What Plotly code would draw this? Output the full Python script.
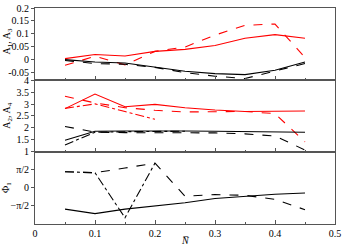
import numpy as np
import plotly.graph_objects as go

N = [0.05, 0.1, 0.15, 0.2, 0.25, 0.3, 0.35, 0.4, 0.45]

# Panel 1: A1, A3
a1_red_solid = [0.004, 0.020, 0.014, 0.032, 0.040, 0.055, 0.083, 0.097, 0.083]
a1_red_dash = [-0.022, 0.013, -0.020, 0.032, 0.049, 0.095, 0.133, 0.138, 0.008]
a1_blk_solid = [0.000, -0.009, -0.013, -0.028, -0.045, -0.054, -0.058, -0.041, -0.009]
a1_blk_dash = [-0.003, -0.015, -0.018, -0.030, -0.050, -0.064, -0.073, -0.045, -0.015]

# Panel 2: A2, A4
a2_red_solid = [2.81, 3.42, 2.89, 2.99, 2.85, 2.75, 2.69, 2.69, 2.71]
a2_red_dash = [3.33, 3.05, 2.85, 2.74, 2.67, 2.69, 2.69, 2.60, 1.41]
N_short = [0.05, 0.1, 0.15, 0.2]
a2_red_dashdot = [2.82, 3.01, 2.69, 2.36]
a2_blk_solid = [1.48, 1.86, 1.87, 1.88, 1.87, 1.86, 1.85, 1.84, 1.82]
a2_blk_dash = [2.06, 1.82, 1.80, 1.80, 1.80, 1.79, 1.75, 1.66, 1.07]
N_dd = [0.05, 0.1, 0.15, 0.2, 0.25]
a2_blk_dashdot = [1.28, 1.82, 1.84, 1.86, 1.86]

# Panel 3: phi1
phi_solid = [-1.85, -2.24, -1.85, -1.57, -1.29, -0.92, -0.73, -0.56, -0.45]
phi_dash = [1.40, 1.31, 1.72, 2.15, -0.73, -0.59, -0.65, -1.00, -1.90]
phi_dashdot = [1.40, 1.31, -2.60, 2.15]

fig = go.Figure()

def add(x, y, color, dash, xa, ya):
    fig.add_trace(go.Scatter(x=x, y=y, mode="lines",
                             line=dict(color=color, width=1.1, dash=dash),
                             xaxis=xa, yaxis=ya, showlegend=False))

add(N, a1_red_solid, "red", "solid", "x", "y")
add(N, a1_red_dash, "red", "dash", "x", "y")
add(N, a1_blk_solid, "black", "solid", "x", "y")
add(N, a1_blk_dash, "black", "dash", "x", "y")

add(N, a2_red_solid, "red", "solid", "x2", "y2")
add(N, a2_red_dash, "red", "dash", "x2", "y2")
add(N_short, a2_red_dashdot, "red", "dashdot", "x2", "y2")
add(N, a2_blk_solid, "black", "solid", "x2", "y2")
add(N, a2_blk_dash, "black", "dash", "x2", "y2")
add(N_dd, a2_blk_dashdot, "black", "dashdot", "x2", "y2")

add(N, phi_solid, "black", "solid", "x3", "y3")
add(N, phi_dash, "black", "dash", "x3", "y3")
add(N_short, phi_dashdot, "black", "dashdot", "x3", "y3")

font = dict(family="Times New Roman, Liberation Serif, serif", size=10, color="black")
lc = "#555555"

def xax(domain_anchor, labels):
    return dict(range=[0, 0.5], anchor=domain_anchor, showline=True, linecolor=lc,
                linewidth=1, mirror=True, ticks="inside", ticklen=4, tickcolor=lc,
                dtick=0.1, tick0=0, showticklabels=labels, showgrid=False,
                zeroline=False, tickfont=font,
                minor=dict(dtick=0.05, ticks="inside", ticklen=2, tickcolor=lc))

def yax(domain, anchor, **kw):
    d = dict(domain=domain, anchor=anchor, showline=True, linecolor=lc, linewidth=1,
             mirror=True, ticks="outside", ticklen=3, tickcolor=lc, showgrid=False,
             zeroline=False, tickfont=font)
    d.update(kw)
    return d

H = 221.0
d1 = [1 - 74 / H, 1]
d2 = [1 - 147 / H, 1 - 74 / H]
d3 = [0, 1 - 147 / H]

fig.update_layout(
    width=344, height=246,
    margin=dict(l=35, r=7, t=3, b=22),
    paper_bgcolor="white", plot_bgcolor="white",
    font=font,
    xaxis=xax("y", False), xaxis2=xax("y2", False), xaxis3=xax("y3", True),
    yaxis=yax(d1, "x", range=[-0.08, 0.2], tickvals=[-0.05, 0, 0.05, 0.1, 0.15, 0.2],
              ticktext=["-0.05", "0", "0.05", "0.1", "0.15", "0.2"]),
    yaxis2=yax(d2, "x2", range=[1, 4], tickvals=[1, 1.5, 2, 2.5, 3, 3.5, 4],
               ticktext=["1", "1.5", "2", "2.5", "3", "3.5", "4"]),
    yaxis3=yax(d3, "x3", range=[-np.pi, np.pi], tickvals=[-np.pi / 2, 0, np.pi / 2],
               ticktext=["\u2212\u03c0/2", "0", "\u03c0/2"]),
)
fig.update_xaxes(matches="x")

anns = [
    dict(text="A<sub>1</sub>, A<sub>3</sub>", x=7, y=37),
    dict(text="A<sub>2</sub>, A<sub>4</sub>", x=7, y=113),
    dict(text="\u03a6<sub>1</sub>", x=7, y=187),
]
for a in anns:
    fig.add_annotation(text=a["text"], xref="paper", yref="paper",
                       x=(a["x"] - 35) / 302.0, y=(224 - a["y"]) / H,
                       textangle=-90, showarrow=False, font=font,
                       xanchor="center", yanchor="middle")
fig.add_annotation(text="<i>N\u0305</i>", xref="paper", yref="paper",
                   x=(187 - 35) / 302.0, y=(224 - 241) / H, showarrow=False,
                   font=font, xanchor="center", yanchor="middle")

fig.write_html("out.html", config={"displayModeBar": False},
               post_script="document.body.style.margin='0';")
